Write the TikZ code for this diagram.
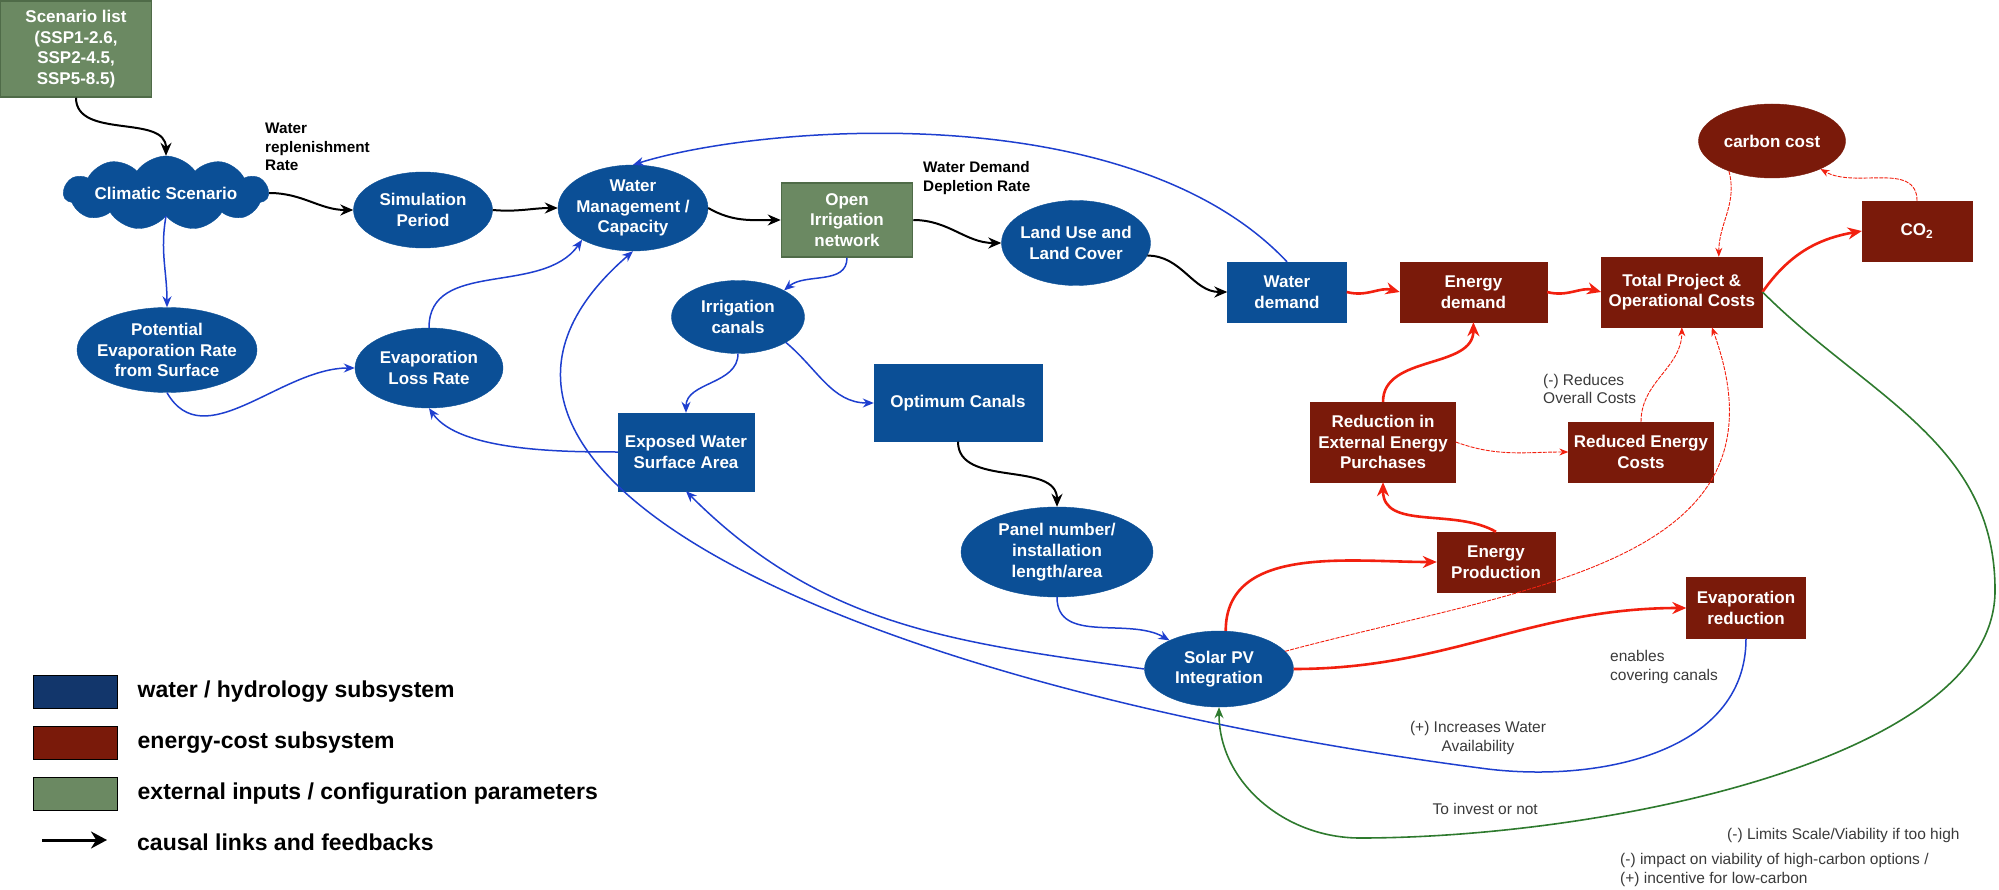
\documentclass[tikz,border=0pt]{standalone}
\usepackage{fontspec}
\setmainfont{Liberation Sans}
\usepackage{xcolor}
\usepackage{tikz}
\usetikzlibrary{shapes.geometric, shapes.symbols, arrows.meta, positioning, calc}
\definecolor{waterblue}{HTML}{0B4F96}
\definecolor{costred}{HTML}{7A1A0A}
\definecolor{inputgreen}{HTML}{6B8962}
\definecolor{inputedge}{HTML}{4F6B48}
\definecolor{flowblue}{HTML}{1E3FCF}
\definecolor{flowred}{HTML}{F2200F}
\definecolor{flowgreen}{HTML}{2E7A2E}
\definecolor{keyblue}{HTML}{12366B}
\definecolor{notegray}{HTML}{3A3A3A}
\tikzstyle{lighttext} = [text=white, font=\fontsize{17}{20.7}\selectfont\bfseries, align=center]
\tikzstyle{arrow} = [->, >={Stealth[length=11pt, width=9pt]}]

\begin{document}
\begin{tikzpicture}[x=1pt, y=-1pt,
		wnode/.style={ellipse, lighttext, fill=waterblue, draw=waterblue, inner sep=-14pt},
		wbox/.style={rectangle, lighttext, fill=waterblue, draw=waterblue, inner sep=2pt},
		enode/.style={ellipse, lighttext, fill=costred, draw=costred, inner sep=-14pt},
		ebox/.style={rectangle, lighttext, fill=costred, draw=costred, inner sep=2pt},
		gbox/.style={rectangle, lighttext, fill=inputgreen, draw=inputedge, line width=1.5pt, inner sep=2pt},
		causal/.style={arrow, black, line width=2pt, >={Stealth[length=13pt, width=11pt]}},
		wlink/.style={arrow, flowblue, line width=1.5pt},
		elink/.style={arrow, flowred, line width=2.6pt, >={Stealth[length=14pt, width=12pt]}},
		ethin/.style={arrow, flowred, line width=0.9pt, dash pattern=on 4pt off 1.2pt, >={Stealth[length=9pt, width=7pt]}},
		glink/.style={arrow, flowgreen, line width=1.6pt},
		note/.style={text=notegray, font=\fontsize{15.5}{18.5}\selectfont, align=left, inner sep=0pt},
		bnote/.style={text=black, font=\fontsize{15.3}{18.5}\selectfont\bfseries, align=left, inner sep=0pt},
		keysw/.style={rectangle, draw=black, line width=1pt, minimum width=84pt, minimum height=33pt, inner sep=0pt},
		keytxt/.style={font=\fontsize{23}{27}\selectfont\bfseries, inner sep=0pt}]

		\useasboundingbox (0,0) rectangle (1999,890);

		\node (scen) [gbox, minimum width=151pt, minimum height=96pt] at (76,49) {Scenario list\\(SSP1-2.6,\\SSP2-4.5,\\SSP5-8.5)};
		\node (clim) [cloud, cloud puffs=11, cloud puff arc=110, cloud ignores aspect, lighttext, fill=waterblue, draw=waterblue, minimum width=205pt, minimum height=74pt, inner sep=-8pt] at (166,193) {Climatic Scenario};
		\node (sim) [wnode, minimum width=139pt, minimum height=76pt] at (423,210) {Simulation\\Period};
		\node (wman) [wnode, minimum width=150pt, minimum height=86pt] at (633,208) {Water\\Management /\\Capacity};
		\node (oin) [gbox, minimum width=131pt, minimum height=74pt] at (847,220) {Open\\Irrigation\\network};
		\node (luse) [wnode, minimum width=149pt, minimum height=85pt] at (1076,243) {Land Use and\\Land Cover};
		\node (wdem) [wbox, minimum width=119pt, minimum height=60pt] at (1287,292) {Water\\demand};
		\node (edem) [ebox, right=53pt of wdem, minimum width=147pt, minimum height=60pt] {Energy\\demand};
		\node (tot) [ebox, right=54pt of edem, minimum width=161pt, minimum height=70pt] {Total Project \&\\Operational Costs};
		\node (co2) [ebox, minimum width=110pt, minimum height=60pt] at (1917,231) {CO\textsubscript{2}};
		\node (ccost) [enode, minimum width=147pt, minimum height=74pt] at (1772,141) {carbon cost};

		\node (pot) [wnode, minimum width=180pt, minimum height=85pt] at (167,350) {Potential\\Evaporation Rate\\from Surface};
		\node (eloss) [wnode, minimum width=148pt, minimum height=80pt] at (429,368) {Evaporation\\Loss Rate};
		\node (ican) [wnode, minimum width=133pt, minimum height=73pt] at (738,317) {Irrigation\\canals};
		\node (expo) [wbox, minimum width=136pt, minimum height=78pt] at (686,452) {Exposed Water\\Surface Area};
		\node (opt) [wbox, minimum width=168pt, minimum height=77pt] at (958,403) {Optimum Canals};
		\node (panel) [wnode, minimum width=192pt, minimum height=90pt] at (1057,552) {Panel number/\\installation\\length/area};
		\node (spv) [wnode, minimum width=149pt, minimum height=76pt] at (1219,669) {Solar PV\\Integration};

		\node (rext) [ebox, minimum width=145pt, minimum height=80pt] at (1383,442) {Reduction in\\External Energy\\Purchases};
		\node (rcost) [ebox, minimum width=145pt, minimum height=60pt] at (1641,452) {Reduced Energy\\Costs};
		\node (eprod) [ebox, minimum width=118pt, minimum height=60pt] at (1496,562) {Energy\\Production};
		\node (evred) [ebox, minimum width=119pt, minimum height=61pt] at (1746,608) {Evaporation\\reduction};

		\node (repl) [bnote, anchor=west] at (265,147) {Water\\replenishment\\Rate};
		\node (depl) [bnote, anchor=west] at (923,178) {Water Demand\\Depletion Rate};
		\node (lower) [note, anchor=west] at (1543,389) {(-) Reduces\\Overall Costs};
		\node (incw) [note, align=center] at (1478,738) {(+) Increases Water\\Availability};
		\node (enab) [note, anchor=west] at (1610,667) {enables\\covering canals};
		\node (inv) [note, anchor=east] at (1538,809) {To invest or not};
		\node (lim) [note, anchor=west] at (1727,835) {(-) Limits Scale/Viability if too high};
		\node (imp) [note, anchor=west] at (1620,870) {(-) impact on viability of high-carbon options /\\(+) incentive for low-carbon};

		\coordinate (avail) at (1480,768);
		\coordinate (gturn) at (1995,590);
		\coordinate (gbot) at (1360,838);

		\draw[causal] (scen.south) to[out=-90, in=90] (clim.north);
		\draw[causal] (clim.east) to[out=0, in=180] (sim.west);
		\draw[causal] (sim.east) to[out=-5, in=180] (wman.west);
		\draw[causal] (wman.east) to[out=-30, in=180] (oin.west);
		\draw[causal] (oin.east) to[out=0, in=180] (luse.west);
		\draw[causal] (luse.-10) to[out=0, in=180] (wdem.west);
		\draw[causal] (opt.south) to[out=-90, in=90] (panel.north);

		\draw[wlink] (clim.south) to[out=-100, in=90] (pot.north);
		\draw[wlink] (pot.south) to[out=-60, in=180] (eloss.west);
		\draw[wlink] (eloss.north) to[out=90, in=-125] (wman.-148);
		\draw[wlink] (oin.south) to[out=-90, in=40] (ican.30);
		\draw[wlink] (ican.south) to[out=-90, in=90] (expo.north);
		\draw[wlink] (ican.-28) to[out=-40, in=180] (opt.west);
		\draw[wlink] (panel.south) to[out=-90, in=150] (spv.150);
		\draw[wlink] (expo.west) to[out=180, in=-55, looseness=0.7] (eloss.south);
		\draw[wlink] (spv.west) to[out=172, in=-45] (expo.south);
		\draw[wlink] (evred.south) to[out=-90, in=-8] (avail) .. controls (850,685) and (380,470) .. (wman.south);
		\draw[wlink] (wdem.north) .. controls (1130,95) and (760,125) .. (wman.north);

		\draw[elink] (wdem.east) to[out=-15, in=165] (edem.west);
		\draw[elink] (edem.east) to[out=-15, in=165] (tot.west);
		\draw[elink] (tot.east) to[out=55, in=190] (co2.west);
		\draw[elink] (rext.north) to[out=90, in=-90] (edem.south);
		\draw[elink] (eprod.north) to[out=150, in=-90] (rext.south);
		\draw[elink] (spv.80) to[out=90, in=180] (eprod.west);
		\draw[elink] (spv.east) to[out=0, in=180] (evred.west);
		\draw[ethin] (rext.east) to[out=-20, in=180] (rcost.west);
		\draw[ethin] (rcost.north) to[out=90, in=-90] (tot.south);
		\draw[ethin] (spv.15) to[out=15, in=-70, looseness=1.2] ([xshift=30pt]tot.south);
		\draw[ethin] (ccost.-145) to[out=-75, in=90] ([xshift=37pt]tot.north);
		\draw[ethin] (co2.north) to[out=90, in=-30] (ccost.-30);

		\draw[glink] (tot.east) to[out=-45, in=90] (gturn) .. controls (1996,760) and (1600,838) .. (gbot) to[out=180, in=-90] (spv.south);

		\node (kw) [keysw, fill=keyblue] at (75,691.5) {};
		\node (kwt) [keytxt, right=20pt of kw] {water / hydrology subsystem};
		\node (ke) [keysw, fill=costred, below=17pt of kw] {};
		\node (ket) [keytxt, right=20pt of ke] {energy-cost subsystem};
		\node (kg) [keysw, fill=inputgreen, below=17pt of ke] {};
		\node (kgt) [keytxt, right=20pt of kg] {external inputs / configuration parameters};
		\coordinate (ka) at (42,840);
		\coordinate (kb) at (107,840);
		\node (kct) [keytxt, anchor=west] at (137,842) {causal links and feedbacks};
		\draw[arrow, line width=3pt, >={Stealth[length=16pt, width=17pt]}] (ka) -- (kb);
	\end{tikzpicture}
\end{document}
